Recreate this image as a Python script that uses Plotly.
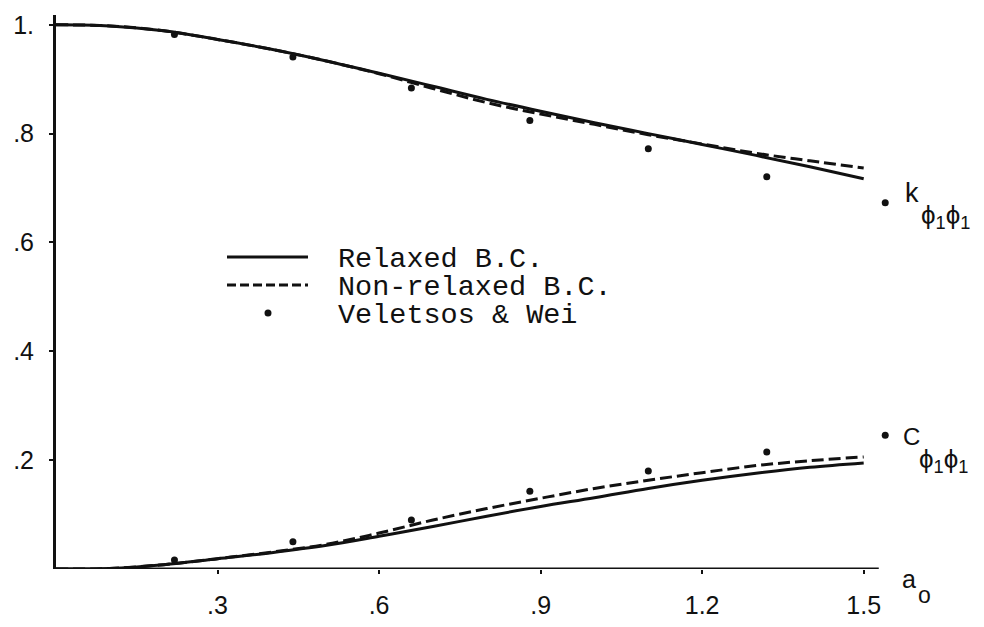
import plotly.graph_objects as go

# ---- data -------------------------------------------------------------
a_curve = [0.0, 0.1, 0.2, 0.3, 0.4, 0.5, 0.6, 0.7, 0.8, 0.9, 1.0, 1.1, 1.2, 1.3, 1.4, 1.5]

k_relaxed = [1.0, 0.998, 0.989, 0.973, 0.955, 0.934, 0.911, 0.887, 0.863, 0.841,
             0.820, 0.800, 0.780, 0.760, 0.739, 0.717]
k_nonrelaxed = [1.0, 0.998, 0.989, 0.973, 0.955, 0.934, 0.910, 0.883, 0.857, 0.836,
                0.817, 0.798, 0.781, 0.764, 0.750, 0.737]

c_relaxed = [0.0, 0.001, 0.008, 0.019, 0.030, 0.043, 0.060, 0.078, 0.097, 0.115,
             0.131, 0.148, 0.163, 0.176, 0.187, 0.195]
c_nonrelaxed = [0.0, 0.001, 0.008, 0.019, 0.031, 0.045, 0.066, 0.090, 0.111, 0.130,
                0.148, 0.163, 0.177, 0.190, 0.199, 0.206]

a_veletsos = [0.22, 0.44, 0.66, 0.88, 1.10, 1.32, 1.54]
k_veletsos = [0.982, 0.941, 0.884, 0.824, 0.772, 0.721, 0.673]
c_veletsos = [0.0165, 0.050, 0.090, 0.143, 0.180, 0.215, 0.246]

x_ticks = [0.3, 0.6, 0.9, 1.2, 1.5]
x_ticktext = [".3", ".6", ".9", "1.2", "1.5"]
y_ticks = [0.2, 0.4, 0.6, 0.8, 1.0]
y_ticktext = [".2", ".4", ".6", ".8", "1."]

legend_labels = ["Relaxed B.C.", "Non-relaxed B.C.", "Veletsos & Wei"]

X_AXIS_END = 1.528   # drawn length of the abscissa
X_RANGE = [0, 1.56]  # a little extra room for the last Veletsos points
Y_RANGE = [0, 1.018]

# ---- layout geometry ---------------------------------------------------
WIDTH, HEIGHT = 984, 627
L, R, T, B = 56, 88, 15, 58
PW, PH = WIDTH - L - R, HEIGHT - T - B


def px(x):
    return (x - L) / PW


def py(y):
    return 1 - (y - T) / PH


INK = "#111111"
LINE_W = 3
DASH = "12px,5px"
MONO = "Liberation Mono, DejaVu Sans Mono, monospace"
SANS = "Liberation Sans Narrow, Liberation Sans, Arial, sans-serif"

fig = go.Figure()

for ys in (k_relaxed, c_relaxed):
    fig.add_trace(go.Scatter(x=a_curve, y=ys, mode="lines", line_shape="spline",
                             line=dict(color=INK, width=LINE_W), showlegend=False))
for ys in (k_nonrelaxed, c_nonrelaxed):
    fig.add_trace(go.Scatter(x=a_curve, y=ys, mode="lines", line_shape="spline",
                             line=dict(color=INK, width=LINE_W, dash=DASH), showlegend=False))
for ys in (k_veletsos, c_veletsos):
    fig.add_trace(go.Scatter(x=a_veletsos, y=ys, mode="markers", cliponaxis=False,
                             marker=dict(color=INK, size=7), showlegend=False))

shapes = [
    # abscissa, stopping just past the last tick
    dict(type="line", xref="x", yref="y", x0=0, x1=X_AXIS_END, y0=0, y1=0,
         line=dict(color=INK, width=3)),
    # hand-drawn legend
    dict(type="line", xref="paper", yref="paper", x0=px(227), x1=px(308),
         y0=py(257), y1=py(257), line=dict(color=INK, width=LINE_W)),
    dict(type="line", xref="paper", yref="paper", x0=px(227), x1=px(308),
         y0=py(285), y1=py(285), line=dict(color=INK, width=LINE_W, dash="9px,4px")),
    dict(type="circle", xref="paper", yref="paper", x0=px(264.5), x1=px(271.5),
         y0=py(316.5), y1=py(309.5), fillcolor=INK, line=dict(width=0)),
]

annotations = []
for label, yy in zip(legend_labels, (259, 287, 315)):
    annotations.append(dict(xref="paper", yref="paper", x=px(336), y=py(yy),
                            xanchor="left", yanchor="middle", showarrow=False,
                            text=label, font=dict(family=MONO, size=28.5, color=INK)))

# curve labels and axis label
annotations += [
    dict(xref="paper", yref="paper", x=px(903), y=py(193), xanchor="left", yanchor="middle",
         showarrow=False, text="k", font=dict(family=SANS, size=27, color=INK)),
    dict(xref="paper", yref="paper", x=px(919), y=py(216), xanchor="left", yanchor="middle",
         showarrow=False, text="ϕ<sub>1</sub>ϕ<sub>1</sub>",
         font=dict(family=SANS, size=26, color=INK)),
    dict(xref="paper", yref="paper", x=px(901), y=py(437), xanchor="left", yanchor="middle",
         showarrow=False, text="C", font=dict(family=SANS, size=24, color=INK)),
    dict(xref="paper", yref="paper", x=px(917), y=py(460), xanchor="left", yanchor="middle",
         showarrow=False, text="ϕ<sub>1</sub>ϕ<sub>1</sub>",
         font=dict(family=SANS, size=26, color=INK)),
    dict(xref="paper", yref="paper", x=px(900), y=py(579), xanchor="left", yanchor="middle",
         showarrow=False, text="a", font=dict(family=SANS, size=25, color=INK)),
    dict(xref="paper", yref="paper", x=px(916), y=py(595), xanchor="left", yanchor="middle",
         showarrow=False, text="o", font=dict(family=SANS, size=23, color=INK)),
]

fig.update_layout(
    width=WIDTH, height=HEIGHT, autosize=False,
    margin=dict(l=L, r=R, t=T, b=B, pad=0),
    paper_bgcolor="white", plot_bgcolor="white",
    shapes=shapes, annotations=annotations,
    xaxis=dict(range=X_RANGE, showgrid=False, zeroline=False, showline=False,
               automargin=False,
               tickmode="array", tickvals=x_ticks, ticktext=x_ticktext,
               ticks="outside", ticklen=4, tickwidth=2, tickcolor=INK,
               ticklabelstandoff=10,
               tickfont=dict(family=SANS, size=25, color=INK)),
    yaxis=dict(range=Y_RANGE, showgrid=False, zeroline=False,
               showline=True, linecolor=INK, linewidth=3, automargin=False,
               tickmode="array", tickvals=y_ticks, ticktext=y_ticktext,
               ticks="outside", ticklen=4, tickwidth=2, tickcolor=INK,
               ticklabelstandoff=10,
               tickfont=dict(family=SANS, size=25, color=INK)),
)

fig.write_html("out.html")
